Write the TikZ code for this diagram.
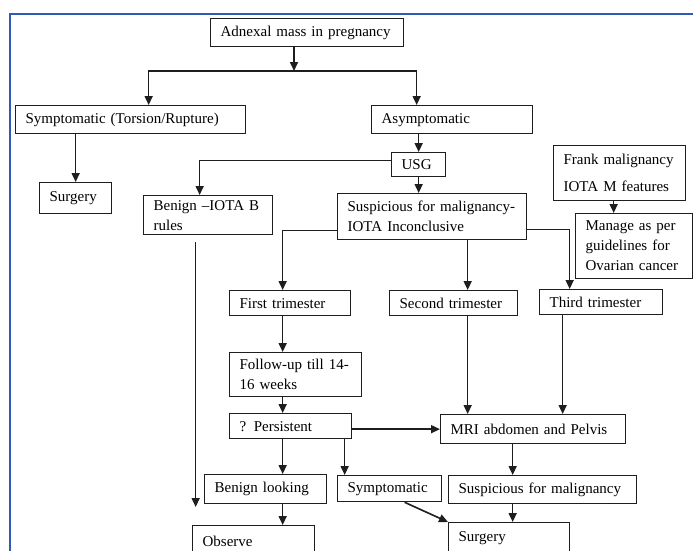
\documentclass[tikz,border=0pt]{standalone}
\usepackage{fontspec}
\setmainfont{Liberation Serif}
\usetikzlibrary{arrows.meta, positioning, calc}
\definecolor{frameblue}{RGB}{50, 90, 180}
\definecolor{linegray}{RGB}{30, 30, 30}
\tikzset{
  box/.style={draw=linegray, line width=1.3pt, anchor=north west, align=left,
    inner xsep=10pt, inner ysep=0pt, font=\fontsize{15pt}{20pt}\selectfont},
  flow/.style={draw=linegray, line width=1.6pt, -{Triangle[length=9pt, width=8pt]}},
}

\begin{document}
\begin{tikzpicture}[x=1pt, y=-1pt]
  \clip (0,0) rectangle (693,550);
  % Frame
  \draw[frameblue, line width=1.8pt] (10,560) -- (10,14) -- (700,14);

  % Top levels
  \node[box, text width=173pt, minimum height=28pt] (adnexal) at (210,18) {Adnexal mass in pregnancy};
  \node[box, text width=210pt, minimum height=28pt] (sympt) at (15,105) {Symptomatic (Torsion/Rupture)};
  \node[box, text width=141pt, minimum height=28pt] (asym) at (371,105) {Asymptomatic};
  \node[box, text width=52pt, minimum height=31pt] (surgeryA) at (39,182) {Surgery};
  \node[box, text width=34pt, minimum height=24pt] (usg) at (391,152) {USG};
  \node[box, text width=109pt, minimum height=39pt] (benign) at (143,195) {Benign --IOTA B\\rules};
  \node[box, text width=169pt, minimum height=46pt] (susp) at (337,193) {Suspicious for malignancy-\\IOTA Inconclusive};
  \node[box, text width=112pt, minimum height=55pt] (frank) at (553,145) {Frank malignancy\\[7pt]IOTA M features};
  \node[box, text width=97pt, minimum height=65pt] (manage) at (575,213) {Manage as per\\guidelines for\\Ovarian cancer};

  % Trimesters
  \node[box, text width=101pt, minimum height=25pt] (first) at (229,290) {First trimester};
  \node[box, text width=108pt, minimum height=25pt] (second) at (389,290) {Second trimester};
  \node[box, text width=103pt, minimum height=25pt] (third) at (539,289) {Third trimester};
  \node[box, text width=112pt, minimum height=44pt] (follow) at (229,352) {Follow-up till 14-\\16 weeks};
  \node[box, text width=102pt, minimum height=25pt] (persist) at (229,413) {? Persistent};
  \node[box, text width=165pt, minimum height=29pt] (mri) at (440,414) {MRI abdomen and Pelvis};

  % Bottom
  \node[box, text width=102pt, minimum height=29pt] (benlook) at (204,474) {Benign looking};
  \node[box, text width=84pt, minimum height=26pt] (sympt2) at (337,475) {Symptomatic};
  \node[box, text width=168pt, minimum height=28pt] (susp2) at (448,475) {Suspicious for malignancy};
  \node[box, text width=102pt, minimum height=32pt] (observe) at (192,525) {Observe};
  \node[box, text width=101pt, minimum height=30pt] (surgeryB) at (448,522) {Surgery};

  % Connectors
  \coordinate (split) at (294,71);
  \coordinate (benignend) at (195,507);
  \draw[flow] (adnexal.south -| split) -- (split);
  \draw[flow] (split) -| ([xshift=18pt]sympt.north);
  \draw[flow] (split) -| ([xshift=-35.5pt]asym.north);
  \draw[flow] (surgeryA.north |- sympt.south) -- (surgeryA.north);
  \draw[flow] (usg.north |- asym.south) -- (usg.north);
  \draw[flow] ([yshift=4pt]usg.west) -| ([xshift=-8.5pt]benign.north);
  \draw[flow] (usg.south) -- (usg.south |- susp.north);
  \draw[flow] ([xshift=-6pt]frank.south) -- ([xshift=-6pt]frank.south |- manage.north);
  \draw[flow] ([xshift=-12.5pt,yshift=-7pt]benign.south) -- ([xshift=-12.5pt]benign.south |- benignend);
  \draw[flow] ([yshift=-14pt]susp.west) -| ([xshift=-7.5pt]first.north);
  \draw[flow] ([xshift=14pt]second.north |- susp.south) -- ([xshift=14pt]second.north);
  \draw[flow] ([yshift=-13pt]susp.east) -| ([xshift=-31.5pt]third.north);
  \draw[flow] ([xshift=-7.5pt]first.south) -- ([xshift=-13pt]follow.north);
  \draw[flow] ([xshift=-13pt]follow.south) -- ([xshift=-8pt]persist.north);
  \draw[flow] (persist.east |- mri.west) -- (mri.west);
  \draw[flow] ([xshift=14pt]second.south) -- ([xshift=14pt]second.south |- mri.north);
  \draw[flow] ([xshift=-38.5pt]third.south) -- ([xshift=-38.5pt]third.south |- mri.north);
  \draw[flow] ([xshift=-8pt]persist.south) -- ([xshift=17pt]benlook.north);
  \draw[flow] ([xshift=54pt]persist.south) -- ([xshift=-45pt]sympt2.north);
  \draw[flow] ([xshift=-20.5pt]mri.south) -- ([xshift=-30pt]susp2.north);
  \draw[flow] ([xshift=-30pt]susp2.south) -- ([xshift=3.5pt]surgeryB.north);
  \draw[flow] ([xshift=15pt]sympt2.south) -- (surgeryB.north west);
  \draw[flow] ([xshift=17pt]benlook.south) -- ([xshift=29pt]observe.north);
\end{tikzpicture}
\end{document}
